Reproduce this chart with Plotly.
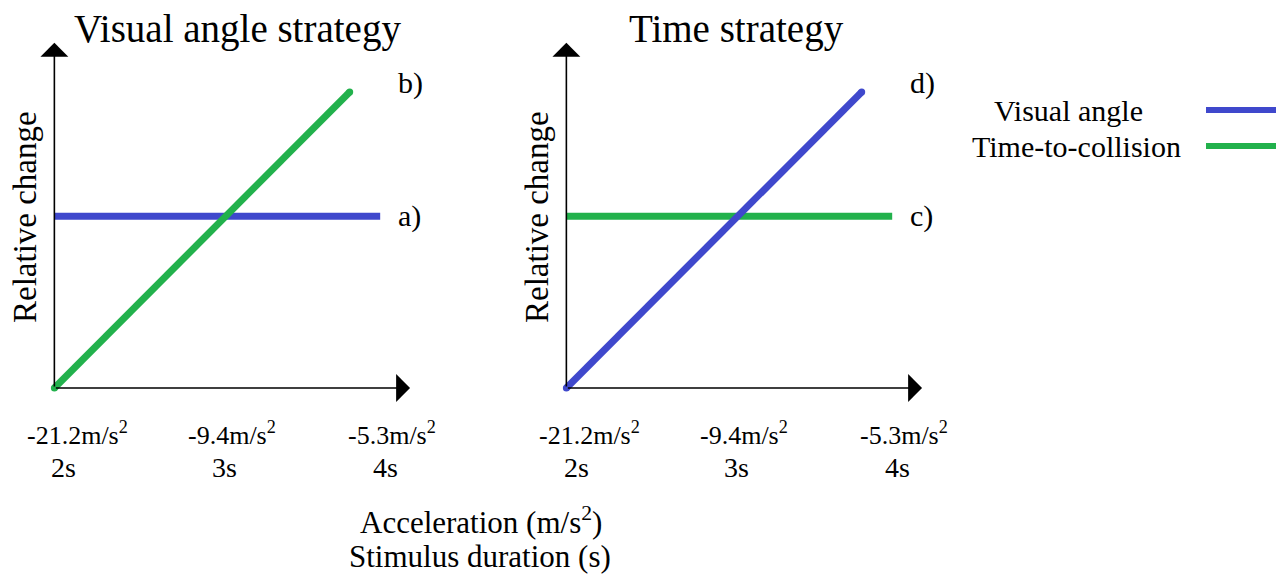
import plotly.graph_objects as go

# ---------------- data ----------------
durations = [2, 3, 4]                      # stimulus duration (s)
accelerations = ["-21.2", "-9.4", "-5.3"]  # acceleration (m/s^2)
duration_labels = ["2s", "3s", "4s"]

rising_x = [1.94, 3.78]
rising_y = [0.0, 1.0]
flat_x = [1.94, 3.97]
flat_y = [0.58, 0.58]

panel_titles = ["Visual angle strategy", "Time strategy"]
flat_labels = ["a)", "c)"]
rising_labels = ["b)", "d)"]
series_names = ["Visual angle", "Time-to-collision"]

BLUE = "#3F48CC"
GREEN = "#22B14C"
FONT = "Liberation Serif, Times New Roman, serif"

W, H = 1284, 574
PAGE_OFF = 8  # default body margin of the page
FW, FH = W - PAGE_OFF, H - PAGE_OFF

def fx(px):
    return (px - PAGE_OFF) / FW

def fy(px):
    return 1 - (px - PAGE_OFF) / FH

# axis ranges and pixel domains (left panel origin at px 54, right at px 566)
XR = [1.9, 4.3]
YR = [-0.05, 1.25]
PX_PER_X = 160.5
PX_PER_Y = 296.0
X2PX = 64
Y0PX = 388

def xdom(offset):
    a = X2PX + (XR[0] - 2) * PX_PER_X + offset
    b = X2PX + (XR[1] - 2) * PX_PER_X + offset
    return [fx(a), fx(b)]

ydom = [fy(Y0PX - YR[0] * PX_PER_Y), fy(Y0PX - YR[1] * PX_PER_Y)]

fig = go.Figure()

panels = [("x", "y", 0, BLUE, GREEN), ("x2", "y2", 512, GREEN, BLUE)]
for i, (xa, ya, off, flat_col, rise_col) in enumerate(panels):
    fig.add_trace(go.Scatter(x=flat_x, y=flat_y, mode="lines", xaxis=xa, yaxis=ya,
                             line=dict(color=flat_col, width=7), showlegend=False,
                             hoverinfo="skip"))
    fig.add_trace(go.Scatter(x=rising_x, y=rising_y, mode="lines+markers", xaxis=xa, yaxis=ya,
                             line=dict(color=rise_col, width=7),
                             marker=dict(color=rise_col, size=7, line=dict(width=0)),
                             showlegend=False, hoverinfo="skip", cliponaxis=False))

annotations = []
for i, (xa, ya, off, flat_col, rise_col) in enumerate(panels):
    x0 = rising_x[0]
    # x axis arrow
    annotations.append(dict(x=4.156, y=0, ax=x0, ay=0, xref=xa, yref=ya, axref=xa, ayref=ya,
                            text="", showarrow=True, arrowhead=1, arrowsize=2.9,
                            arrowwidth=1.6, arrowcolor="black"))
    # y axis arrow
    annotations.append(dict(x=x0, y=1.166, ax=x0, ay=0, xref=xa, yref=ya, axref=xa, ayref=ya,
                            text="", showarrow=True, arrowhead=1, arrowsize=2.9,
                            arrowwidth=1.6, arrowcolor="black"))
    # tick labels
    for d, a, dl in zip(durations, accelerations, duration_labels):
        annotations.append(dict(x=d, y=fy(433), xref=xa, yref="paper", xanchor="left",
                                yanchor="middle", xshift=-39, showarrow=False,
                                text=a + "m/s<sup>2</sup>",
                                font=dict(family=FONT, size=26, color="black")))
        annotations.append(dict(x=d, y=fy(467), xref=xa, yref="paper", xanchor="center",
                                yanchor="middle", showarrow=False, text=dl,
                                font=dict(family=FONT, size=28, color="black")))
    # line labels
    annotations.append(dict(x=4.07, y=flat_y[0], xref=xa, yref=ya, xanchor="left",
                            yanchor="middle", showarrow=False, text=flat_labels[i],
                            font=dict(family=FONT, size=30, color="black")))
    annotations.append(dict(x=4.07, y=1.03, xref=xa, yref=ya, xanchor="left",
                            yanchor="middle", showarrow=False, text=rising_labels[i],
                            font=dict(family=FONT, size=30, color="black")))
    # titles
    annotations.append(dict(x=fx([237, 736][i]), y=fy(29), xref="paper", yref="paper",
                            xanchor="center", yanchor="middle", showarrow=False,
                            text=panel_titles[i],
                            font=dict(family=FONT, size=39, color="black")))
    # y axis label
    annotations.append(dict(x=fx(25 + off), y=fy(217), xref="paper", yref="paper",
                            xanchor="center", yanchor="middle", showarrow=False,
                            text="Relative change", textangle=-90,
                            font=dict(family=FONT, size=33, color="black")))

# bottom axis titles
annotations.append(dict(x=fx(481), y=fy(520), xref="paper", yref="paper", xanchor="center",
                        yanchor="middle", showarrow=False, text="Acceleration (m/s<sup>2</sup>)",
                        font=dict(family=FONT, size=31, color="black")))
annotations.append(dict(x=fx(480), y=fy(556), xref="paper", yref="paper", xanchor="center",
                        yanchor="middle", showarrow=False, text="Stimulus duration (s)",
                        font=dict(family=FONT, size=31, color="black")))

# legend (text on the left, sample line on the right)
legend_y = [111, 147]
legend_x = [1068, 1076]
legend_cols = [BLUE, GREEN]
shapes = []
for name, lx, ly, col in zip(series_names, legend_x, legend_y, legend_cols):
    annotations.append(dict(x=fx(lx), y=fy(ly), xref="paper", yref="paper", xanchor="center",
                            yanchor="middle", showarrow=False, text=name,
                            font=dict(family=FONT, size=30, color="black")))
    shapes.append(dict(type="line", xref="paper", yref="paper", x0=fx(1206), x1=fx(1284),
                       y0=fy(ly - 1), y1=fy(ly - 1), line=dict(color=col, width=6)))

axis_common = dict(visible=False, fixedrange=True)
fig.update_layout(
    width=FW, height=FH, autosize=False,
    margin=dict(l=0, r=0, t=0, b=0),
    paper_bgcolor="white", plot_bgcolor="white",
    xaxis=dict(domain=xdom(0), range=XR, anchor="y", **axis_common),
    yaxis=dict(domain=ydom, range=YR, anchor="x", **axis_common),
    xaxis2=dict(domain=xdom(512), range=XR, anchor="y2", **axis_common),
    yaxis2=dict(domain=ydom, range=YR, anchor="x2", **axis_common),
    annotations=annotations,
    shapes=shapes,
    showlegend=False,
)

fig.write_html("out.html")
